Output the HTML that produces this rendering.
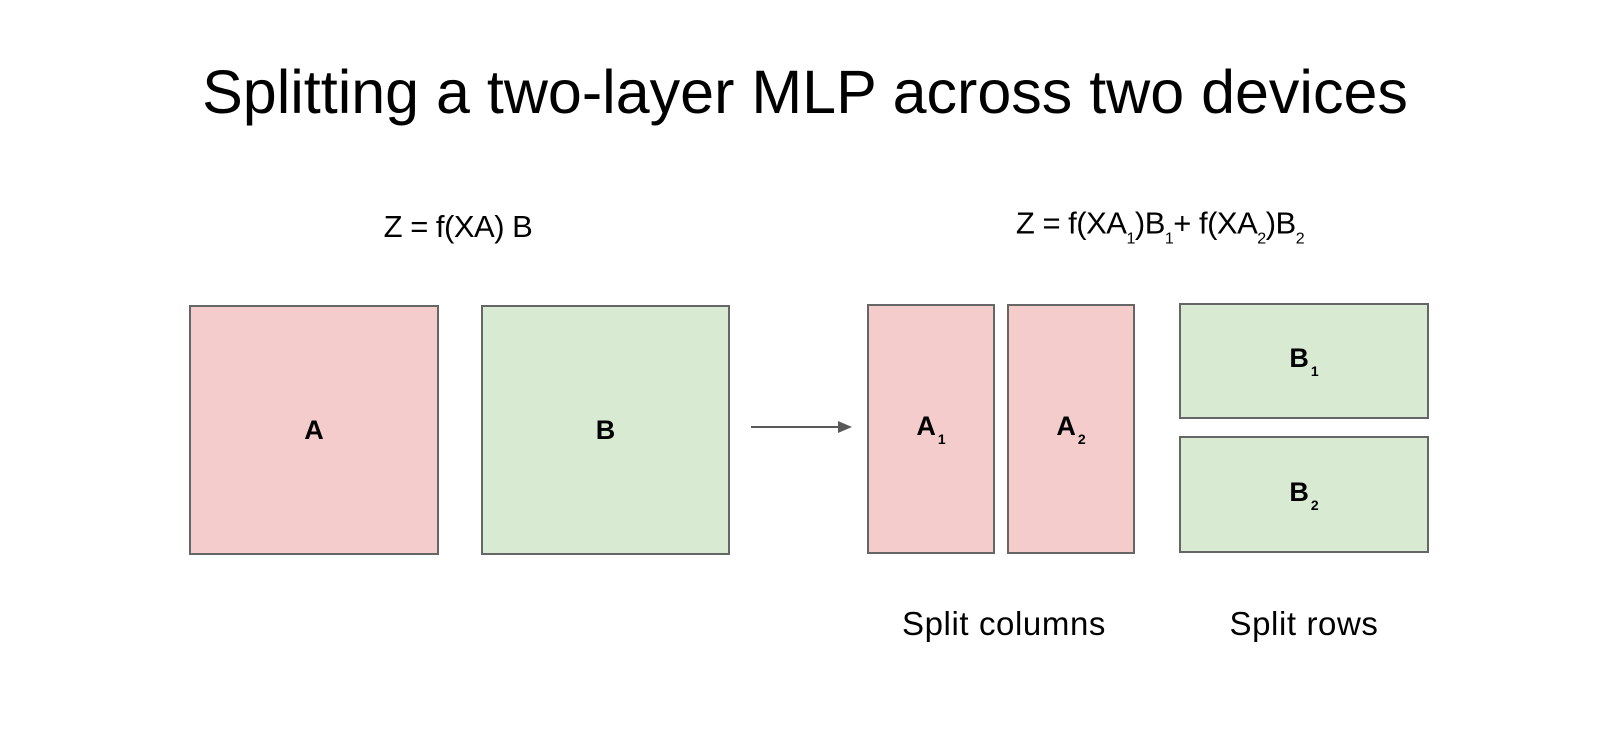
<!DOCTYPE html>
<html><head><style>
body{margin:0;width:1620px;height:748px;background:#fff;position:relative;overflow:hidden;font-family:"Liberation Sans",sans-serif;color:#000}
.t{position:absolute;white-space:nowrap;transform:translate(-50%,-50%)}
.b{position:absolute;box-sizing:border-box;border:2px solid #666;display:flex;align-items:center;justify-content:center;font-weight:bold;font-size:27px}
.r{background:#f4cccc}.g{background:#d9ead3}
.b sub{font-size:14px;vertical-align:-9px;margin-left:2px}
.f{font-size:31px;font-weight:300;letter-spacing:-0.5px}
.f sub{font-size:16px;font-weight:normal;vertical-align:-10px}
</style></head><body>
<div class="t" style="left:805px;top:92px;font-size:61px;font-weight:300">Splitting a two-layer MLP across two devices</div>
<div class="t f" style="left:458px;top:227px">Z = f(XA) B</div>
<div class="t f" style="left:1160px;top:227px">Z = f(XA<sub>1</sub>)B<sub>1</sub>+ f(XA<sub>2</sub>)B<sub>2</sub></div>
<div class="b r" style="left:189px;top:305px;width:250px;height:250px"><span>A</span></div>
<div class="b g" style="left:481px;top:305px;width:249px;height:250px"><span>B</span></div>
<div class="b r" style="left:867px;top:304px;width:128px;height:250px"><span>A<sub>1</sub></span></div>
<div class="b r" style="left:1007px;top:304px;width:128px;height:250px"><span>A<sub>2</sub></span></div>
<div class="b g" style="left:1179px;top:303px;width:250px;height:116px"><span>B<sub>1</sub></span></div>
<div class="b g" style="left:1179px;top:436px;width:250px;height:117px"><span>B<sub>2</sub></span></div>
<svg style="position:absolute;left:0;top:0" width="1620" height="748"><line x1="751" y1="427" x2="840" y2="427" stroke="#595959" stroke-width="2"/><polygon points="838,421 852,427 838,433" fill="#595959"/></svg>
<div class="t" style="left:1004px;top:624px;font-size:33px;font-weight:300;letter-spacing:0.6px">Split columns</div>
<div class="t" style="left:1304px;top:624px;font-size:33px;font-weight:300;letter-spacing:0.6px">Split rows</div>
</body></html>
